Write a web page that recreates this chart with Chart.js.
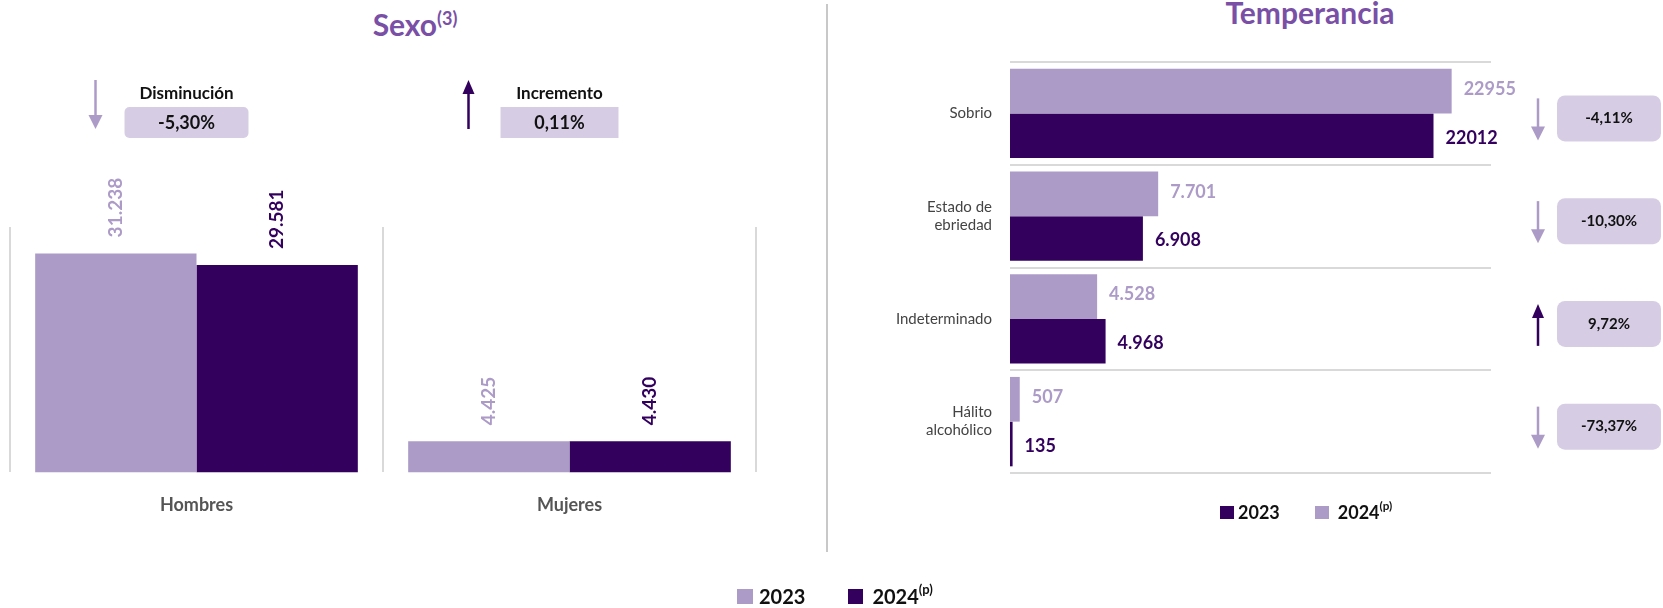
<!DOCTYPE html>
<html>
<head>
<meta charset="utf-8">
<script src="https://cdn.jsdelivr.net/npm/chart.js@4.4.1/dist/chart.umd.min.js"></script>
<style>
  body { margin: 0; width: 1663px; height: 608px; background: #fff; font-family: Lato, "Noto Sans", sans-serif; position: relative; overflow: hidden; }
  .box { position: absolute; }
  .title { position: absolute; color: #7a4fa6; font-weight: bold; font-size: 30px; text-align: center; }
  .title sup { font-size: 18px; }
  .divider { position: absolute; left: 826px; top: 4px; width: 2px; height: 548px; background: #c8c8c8; }
  .legend { position: absolute; display: flex; align-items: center; font-weight: bold; color: #111; }
  .legend .sq { display: inline-block; }
  .legend sup { font-size: 0.65em; align-self: flex-start; margin-top: -3px; }
</style>
</head>
<body>
<div class="title" style="left:300px; top:6px; width:230px;">Sexo<sup>(3)</sup></div>
<div class="title" style="left:1160px; top:-6px; width:300px;">Temperancia</div>
<div class="divider"></div>

<div class="box" style="left:0; top:0; width:790px; height:608px;"><canvas id="sexo"></canvas></div>
<div class="box" style="left:830px; top:0; width:833px; height:608px;"><canvas id="temp"></canvas></div>

<div class="legend" style="left:737px; top:584px; font-size:20px;">
  <span class="sq" style="width:16px;height:15px;background:#ac9bc7;margin-right:6px;"></span>2023
  <span class="sq" style="width:15px;height:15px;background:#33005e;margin-left:43px;margin-right:9px;"></span>2024<sup>(p)</sup>
</div>
<div class="legend" style="left:1220px; top:501px; font-size:18px;">
  <span class="sq" style="width:14px;height:13px;background:#33005e;margin-right:4px;"></span>2023
  <span class="sq" style="width:14px;height:13px;background:#ac9bc7;margin-left:35px;margin-right:9px;"></span>2024<sup>(p)</sup>
</div>

<script>
const LIGHT = '#ac9bc7';
const DARK = '#33005e';
const BOXFILL = '#d6cde5';

// Sexo
const sexoCats = ['Hombres', 'Mujeres'];
const sexo2023 = [31238, 4425];
const sexo2024 = [29581, 4430];
const sexoLbl2023 = ['31.238', '4.425'];
const sexoLbl2024 = ['29.581', '4.430'];
const sexoChgTitle = ['Disminución', 'Incremento'];
const sexoChg = ['-5,30%', '0,11%'];
const sexoUp = [false, true];

// Temperancia
const tempCats = ['Sobrio', ['Estado de', 'ebriedad'], 'Indeterminado', ['Hálito', 'alcohólico']];
const temp2023 = [22955, 7701, 4528, 507];
const temp2024 = [22012, 6908, 4968, 135];
const tempLbl2023 = ['22955', '7.701', '4.528', '507'];
const tempLbl2024 = ['22012', '6.908', '4.968', '135'];
const tempChg = ['-4,11%', '-10,30%', '9,72%', '-73,37%'];
const tempUp = [false, false, true, false];

const FONT = 'Lato, "Noto Sans", sans-serif';

function roundRect(ctx, x, y, w, h, r) {
  ctx.beginPath();
  ctx.moveTo(x + r, y);
  ctx.arcTo(x + w, y, x + w, y + h, r);
  ctx.arcTo(x + w, y + h, x, y + h, r);
  ctx.arcTo(x, y + h, x, y, r);
  ctx.arcTo(x, y, x + w, y, r);
  ctx.closePath();
}

function arrow(ctx, x, y1, y2, up, color) {
  // y1 top, y2 bottom
  ctx.save();
  ctx.strokeStyle = color;
  ctx.fillStyle = color;
  ctx.lineWidth = 2.5;
  ctx.beginPath();
  if (up) {
    ctx.moveTo(x, y2); ctx.lineTo(x, y1 + 10);
    ctx.stroke();
    ctx.beginPath();
    ctx.moveTo(x - 6, y1 + 14); ctx.lineTo(x, y1); ctx.lineTo(x + 6, y1 + 14);
  } else {
    ctx.moveTo(x, y1); ctx.lineTo(x, y2 - 10);
    ctx.stroke();
    ctx.beginPath();
    ctx.moveTo(x - 7, y2 - 14); ctx.lineTo(x, y2); ctx.lineTo(x + 7, y2 - 14);
  }
  ctx.closePath();
  ctx.fill();
  ctx.restore();
}

const sexoExtras = {
  id: 'sexoExtras',
  afterDatasetsDraw(chart) {
    const ctx = chart.ctx;
    const lbls = [sexoLbl2023, sexoLbl2024];
    const cols = [LIGHT, DARK];
    ctx.save();
    ctx.font = 'bold 19px ' + FONT;
    ctx.textAlign = 'left';
    ctx.textBaseline = 'middle';
    chart.data.datasets.forEach((ds, di) => {
      chart.getDatasetMeta(di).data.forEach((bar, i) => {
        ctx.save();
        ctx.translate(bar.x, bar.y - 16);
        ctx.rotate(-Math.PI / 2);
        ctx.fillStyle = cols[di];
        ctx.fillText(lbls[di][i], 0, 0);
        ctx.restore();
      });
    });
    // change annotations
    const xs = chart.scales.x;
    sexoCats.forEach((c, i) => {
      const cx = xs.getPixelForValue(i);
      arrow(ctx, cx - 101, 80, 129, sexoUp[i], sexoUp[i] ? DARK : LIGHT);
      ctx.fillStyle = '#111';
      ctx.font = 'bold 17px ' + FONT;
      ctx.textAlign = 'center';
      ctx.fillText(sexoChgTitle[i], cx - 10, 94);
      const bw = sexoUp[i] ? 118 : 124;
      const bx = cx - 10 - bw / 2;
      ctx.fillStyle = BOXFILL;
      roundRect(ctx, bx, 107, bw, 31, sexoUp[i] ? 0 : 5);
      ctx.fill();
      ctx.fillStyle = '#111';
      ctx.font = 'bold 18px ' + FONT;
      ctx.fillText(sexoChg[i], cx - 10, 123);
    });
    ctx.restore();
  }
};

const tempExtras = {
  id: 'tempExtras',
  afterDatasetsDraw(chart) {
    const ctx = chart.ctx;
    const lbls = [tempLbl2023, tempLbl2024];
    const cols = [LIGHT, DARK];
    ctx.save();
    ctx.font = 'bold 18px ' + FONT;
    ctx.textAlign = 'left';
    ctx.textBaseline = 'middle';
    chart.data.datasets.forEach((ds, di) => {
      chart.getDatasetMeta(di).data.forEach((bar, i) => {
        ctx.fillStyle = cols[di];
        ctx.fillText(lbls[di][i], bar.x + 12, bar.y + (di === 0 ? -2 : 2));
      });
    });
    const ys = chart.scales.y;
    tempCats.forEach((c, i) => {
      const cy = ys.getPixelForValue(i) + 5;
      arrow(ctx, 1538 - 830, cy - 20, cy + 22, tempUp[i], tempUp[i] ? DARK : LIGHT);
      ctx.fillStyle = BOXFILL;
      roundRect(ctx, 1557 - 830, cy - 23, 104, 46, 8);
      ctx.fill();
      ctx.fillStyle = '#111';
      ctx.font = 'bold 15px ' + FONT;
      ctx.textAlign = 'center';
      ctx.fillText(tempChg[i], 1609 - 830, cy);
    });
    ctx.restore();
  }
};

new Chart(document.getElementById('sexo'), {
  type: 'bar',
  data: {
    labels: sexoCats,
    datasets: [
      { label: '2023', data: sexo2023, backgroundColor: LIGHT, categoryPercentage: 0.865, barPercentage: 1 },
      { label: '2024(p)', data: sexo2024, backgroundColor: DARK, categoryPercentage: 0.865, barPercentage: 1 }
    ]
  },
  options: {
    responsive: true,
    maintainAspectRatio: false,
    animation: false,
    layout: { padding: { left: 10, right: 34, top: 227, bottom: 70 } },
    plugins: { legend: { display: false }, tooltip: { enabled: false } },
    scales: {
      x: {
        grid: { color: '#d9d9d9', lineWidth: 2, drawTicks: false },
        border: { display: false },
        ticks: { color: '#555', font: { family: FONT, size: 18, weight: 'bold' }, padding: 22 }
      },
      y: { display: false, min: 0, max: 35000 }
    }
  },
  plugins: [sexoExtras]
});

new Chart(document.getElementById('temp'), {
  type: 'bar',
  data: {
    labels: tempCats,
    datasets: [
      { label: '2023', data: temp2023, backgroundColor: LIGHT, categoryPercentage: 0.87, barPercentage: 1 },
      { label: '2024(p)', data: temp2024, backgroundColor: DARK, categoryPercentage: 0.87, barPercentage: 1 }
    ]
  },
  options: {
    indexAxis: 'y',
    responsive: true,
    maintainAspectRatio: false,
    animation: false,
    layout: { padding: { left: 0, right: 172, top: 62, bottom: 135 } },
    plugins: { legend: { display: false }, tooltip: { enabled: false } },
    scales: {
      x: { display: false, min: 0, max: 25000 },
      y: {
        afterFit(scale) { scale.width = 180; },
        grid: { color: '#d9d9d9', lineWidth: 2, drawTicks: false },
        border: { display: false },
        ticks: { color: '#444', font: { family: FONT, size: 15 }, padding: 18, lineHeight: 1.6 }
      }
    }
  },
  plugins: [tempExtras]
});
</script>
</body>
</html>
